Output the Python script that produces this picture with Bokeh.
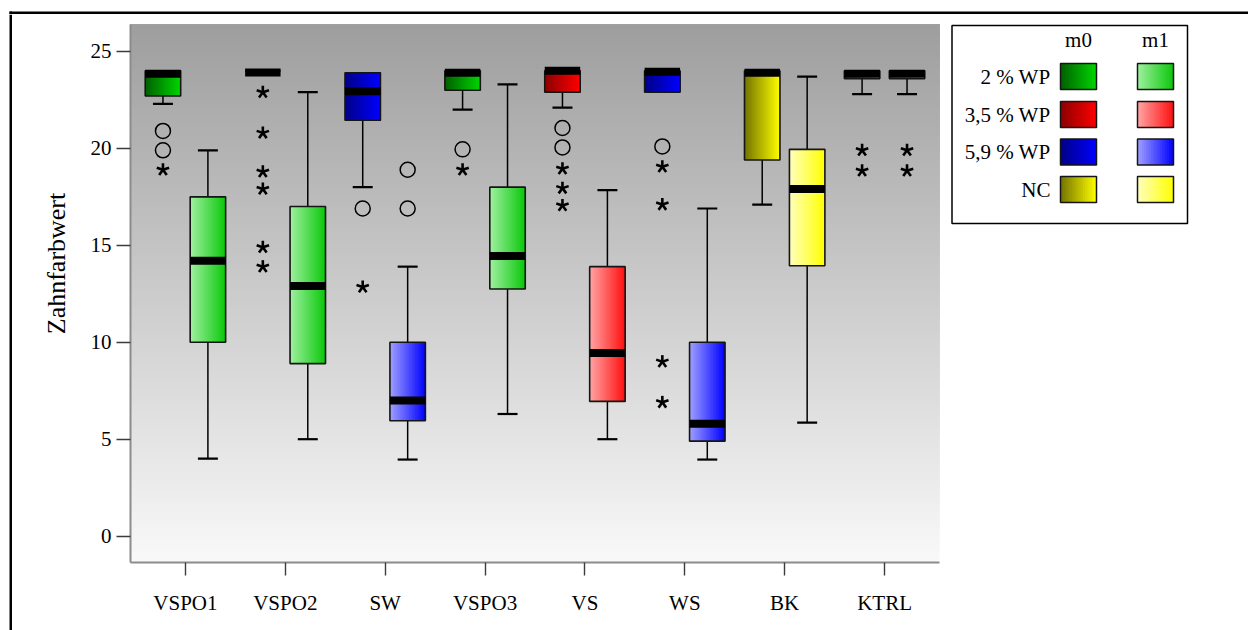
import numpy as np
from bokeh.plotting import figure
from bokeh.layouts import row, column
from bokeh.models import FixedTicker, Range1d
from bokeh.core.properties import value
from bokeh.embed import file_html
from bokeh.resources import INLINE

# ---------------------------------------------------------------- data
categories = ["VSPO1", "VSPO2", "SW", "VSPO3", "VS", "WS", "BK", "KTRL"]
y_ticks = [0, 5, 10, 15, 20, 25]
y_title = "Zahnfarbwert"

# colour group of each category (index into group colours, 4 = control)
cat_group = [0, 0, 2, 0, 1, 2, 3, 4]
group_names = ["2 % WP", "3,5 % WP", "5,9 % WP", "NC"]
session_names = ["m0", "m1"]

# box plot summaries, session m0
m0_low = [22.3, 24.0, 18.0, 22.0, 22.1, 22.9, 17.1, 22.8]
m0_q1 = [22.7, 24.0, 21.45, 23.0, 22.9, 22.9, 19.4, 23.6]
m0_med = [23.85, 23.92, 22.95, 23.9, 24.0, 23.95, 23.9, 23.85]
m0_q3 = [24.0, 24.0, 23.9, 24.0, 24.0, 24.0, 24.0, 24.0]
m0_high = [24.0, 24.0, 23.9, 24.0, 24.0, 24.0, 24.0, 24.0]
m0_circles = [[20.9, 19.9], [], [16.9], [19.95], [21.05, 20.05], [20.1], [], []]
m0_stars = [[18.9], [22.9, 20.8, 18.8, 17.9, 14.9, 13.9], [12.85], [18.9],
            [18.95, 17.95, 17.05], [19.05, 17.1, 9.0, 6.9], [], [19.9, 18.85]]

# box plot summaries, session m1
m1_low = [4.0, 5.0, 3.95, 6.3, 5.0, 3.95, 5.85, 22.8]
m1_q1 = [10.0, 8.9, 5.95, 12.75, 6.95, 4.9, 13.95, 23.6]
m1_med = [14.2, 12.9, 7.0, 14.45, 9.45, 5.8, 17.9, 23.85]
m1_q3 = [17.5, 17.0, 10.0, 18.0, 13.9, 10.0, 19.95, 24.0]
m1_high = [19.9, 22.9, 13.9, 23.3, 17.85, 16.9, 23.7, 24.0]
m1_circles = [[], [], [18.9, 16.9], [], [], [], [], []]
m1_stars = [[], [], [], [], [], [], [], [19.9, 18.85]]

# horizontal gradient (left colour, right colour) per group and session
m0_colours = [((0, 95, 0), (0, 215, 0)), ((140, 0, 0), (255, 0, 0)),
              ((0, 0, 135), (0, 0, 255)), ((115, 115, 0), (255, 255, 0)),
              ((110, 110, 110), (255, 255, 255))]
m1_colours = [((160, 240, 160), (10, 200, 10)), ((255, 165, 165), (255, 15, 15)),
              ((160, 160, 255), (0, 0, 255)), ((255, 255, 190), (255, 255, 0)),
              ((180, 180, 180), (255, 255, 255))]

# ---------------------------------------------------------------- style
W, H = 1248, 630
FONT = "Liberation Serif"
OFFSETS = [-0.225, 0.225]
BOX_W = 0.355
CAP_W = 0.2
N_STRIPS = 24
X_MIN, X_MAX = -0.55, 7.55
Y_MIN, Y_MAX = -1.36, 26.39

LEFT_W = 70          # strip holding the frame line and the y title
LEGEND_W = 303       # legend column
MAIN_W = W - LEFT_W - LEGEND_W
TOP_H = 14           # strip holding the top frame line
BODY_H = H - TOP_H
FRAME_LW = 2.5


def lerp(c0, c1, t):
    return "#%02x%02x%02x" % tuple(int(round(a + (b - a) * t)) for a, b in zip(c0, c1))


def no_frame_align(f):
    # keep each panel's own frame instead of lining it up with neighbours
    if hasattr(f, "frame_align"):
        f.frame_align = False
    return f


def pixel_fig(width, height, x0, y0):
    """Blank figure whose coordinates are page pixels (y grows downward)."""
    f = figure(width=width, height=height, output_backend="svg",
               toolbar_location=None, x_axis_type=None, y_axis_type=None,
               x_range=Range1d(x0, x0 + width), y_range=Range1d(y0 + height, y0),
               min_border=0)
    f.outline_line_color = None
    f.grid.visible = False
    f.background_fill_color = "white"
    f.border_fill_color = "white"
    return no_frame_align(f)


# ---------------------------------------------------------------- main plot
p = figure(width=MAIN_W, height=BODY_H, output_backend="svg",
           toolbar_location=None,
           x_range=Range1d(X_MIN, X_MAX), y_range=Range1d(Y_MIN, Y_MAX),
           min_border_left=130 - LEFT_W, min_border_right=LEFT_W + MAIN_W - 939,
           min_border_top=24 - TOP_H, min_border_bottom=H - 562)
no_frame_align(p)
p.outline_line_color = None
p.grid.visible = False
p.background_fill_color = None
p.border_fill_color = "white"

# plot-area background: vertical grey gradient (each strip overdraws upward)
n_bg = 160
bg_bottom = [Y_MIN + k * (Y_MAX - Y_MIN) / n_bg for k in range(n_bg)]
bg_col = [lerp((249, 249, 249), (158, 158, 158), (k + 0.5) / n_bg) for k in range(n_bg)]
p.quad(left=X_MIN, right=X_MAX, bottom=bg_bottom, top=Y_MAX,
       fill_color=bg_col, line_color=None)

sessions = [
    (m0_low, m0_q1, m0_med, m0_q3, m0_high, m0_circles, m0_stars, m0_colours),
    (m1_low, m1_q1, m1_med, m1_q3, m1_high, m1_circles, m1_stars, m1_colours),
]

wx0, wy0, wx1, wy1 = [], [], [], []
cx0, cx1, cy = [], [], []
sl, sr, sb, st, sc = [], [], [], [], []
bl, br, bb, bt = [], [], [], []
mx0, mx1, my = [], [], []
circ_x, circ_y, star_x, star_y = [], [], [], []

for s, (low, q1, med, q3, high, circles, stars, cols) in enumerate(sessions):
    for i in range(len(categories)):
        x = i + OFFSETS[s]
        left, right = x - BOX_W / 2, x + BOX_W / 2
        if high[i] > q3[i]:
            wx0.append(x); wx1.append(x); wy0.append(q3[i]); wy1.append(high[i])
            cx0.append(x - CAP_W / 2); cx1.append(x + CAP_W / 2); cy.append(high[i])
        if low[i] < q1[i]:
            wx0.append(x); wx1.append(x); wy0.append(low[i]); wy1.append(q1[i])
            cx0.append(x - CAP_W / 2); cx1.append(x + CAP_W / 2); cy.append(low[i])
        c_left, c_right = cols[cat_group[i]]
        for k in range(N_STRIPS):
            sl.append(left + k * BOX_W / N_STRIPS); sr.append(right)
            sb.append(q1[i]); st.append(q3[i])
            sc.append(lerp(c_left, c_right, (k + 0.5) / N_STRIPS))
        bl.append(left); br.append(right); bb.append(q1[i]); bt.append(q3[i])
        mx0.append(left); mx1.append(right); my.append(med[i])
        for v in circles[i]:
            circ_x.append(x); circ_y.append(v)
        for v in stars[i]:
            star_x.append(x); star_y.append(v)

# whiskers and caps
p.segment(x0=wx0, y0=wy0, x1=wx1, y1=wy1, line_color="black", line_width=1.5)
p.segment(x0=cx0, y0=cy, x1=cx1, y1=cy, line_color="black", line_width=2.2)
# boxes with horizontal colour gradient
p.quad(left=sl, right=sr, bottom=sb, top=st, fill_color=sc, line_color=None)
p.quad(left=bl, right=br, bottom=bb, top=bt, fill_color=None,
       line_color="#151515", line_width=1.6)
# medians
p.segment(x0=mx0, y0=my, x1=mx1, y1=my, line_color="black", line_width=8,
          line_cap="butt")
# outliers: open circles and five-armed asterisks
p.scatter(circ_x, circ_y, marker="circle", size=15, fill_color=None,
          line_color="black", line_width=1.5)
arm_angles = np.deg2rad([90, 18, -54, -126, 162])
ax, ay, aa = [], [], []
for x, y in zip(star_x, star_y):
    for a in arm_angles:
        ax.append(x); ay.append(y); aa.append(a)
p.ray(x=ax, y=ay, angle=aa, length=6.5, length_units="screen",
      line_color="black", line_width=2.6)

# axes
for axis in (p.xaxis, p.yaxis):
    axis.axis_line_color = "#8c8c8c"
    axis.axis_line_width = 2
    axis.major_tick_line_color = "#3c3c3c"
    axis.major_tick_line_width = 1.4
    axis.major_tick_in = 0
    axis.minor_tick_line_color = None
    axis.major_label_text_font = FONT
    axis.major_label_text_font_size = "21px"
    axis.major_label_text_color = "black"

p.yaxis.ticker = FixedTicker(ticks=y_ticks)
p.yaxis.major_tick_out = 14
p.yaxis.major_label_standoff = 5

p.xaxis.ticker = FixedTicker(ticks=list(range(len(categories))))
p.xaxis.major_label_overrides = {i: c for i, c in enumerate(categories)}
p.xaxis.major_tick_out = 13
p.xaxis.major_label_standoff = 15

# ---------------------------------------------------------------- top strip
top_fig = pixel_fig(W, TOP_H, 0, 0)
top_fig.quad(left=[9, 9], right=[W, 9 + FRAME_LW], top=[11, 11],
             bottom=[11 + FRAME_LW, TOP_H], fill_color="black", line_color=None)

# ---------------------------------------------------------------- left strip
left_fig = pixel_fig(LEFT_W, BODY_H, 0, TOP_H)
left_fig.quad(left=[9], right=[9 + FRAME_LW], top=[TOP_H], bottom=[H],
              fill_color="black", line_color=None)
left_fig.text(x=[56], y=[263], text=[y_title], angle=np.pi / 2,
              text_align="center", text_baseline="middle",
              text_font=value(FONT), text_font_size="26px", text_color="black")

# ---------------------------------------------------------------- legend
leg = pixel_fig(LEGEND_W, BODY_H, LEFT_W + MAIN_W, TOP_H)
leg.quad(left=[951.5], right=[1187], top=[25], bottom=[223],
         fill_color="white", line_color="black", line_width=1.5)

sw_left = [1060, 1137]
sw_w = 36
row_top = [63, 101, 138.5, 176]
row_h = 26
leg.text(x=[sx + sw_w / 2 for sx in sw_left], y=[39, 39], text=session_names,
         text_align="center", text_baseline="middle", text_font=value(FONT),
         text_font_size="21px", text_color="black")
leg.text(x=[1050] * len(group_names), y=[t + row_h / 2 for t in row_top],
         text=group_names, text_align="right", text_baseline="middle",
         text_font=value(FONT), text_font_size="21px", text_color="black")

n_sw = 16
gl, gr, gt, gb, gc = [], [], [], [], []
ol, orr, ot, ob = [], [], [], []
for g in range(len(group_names)):
    top = row_top[g]
    for j, cols in enumerate((m0_colours, m1_colours)):
        c_left, c_right = cols[g]
        for k in range(n_sw):
            gl.append(sw_left[j] + k * sw_w / n_sw); gr.append(sw_left[j] + sw_w)
            gt.append(top); gb.append(top + row_h)
            gc.append(lerp(c_left, c_right, (k + 0.5) / n_sw))
        ol.append(sw_left[j]); orr.append(sw_left[j] + sw_w)
        ot.append(top); ob.append(top + row_h)
leg.quad(left=gl, right=gr, top=gt, bottom=gb, fill_color=gc, line_color=None)
leg.quad(left=ol, right=orr, top=ot, bottom=ob, fill_color=None,
         line_color="#151515", line_width=1.5)

# each panel sits in its own column so the row keeps their frames independent
body = row(column(left_fig, spacing=0), column(p, spacing=0),
           column(leg, spacing=0), spacing=0)
layout = column(column(top_fig, spacing=0), body, spacing=0)

open("out.html", "w").write(file_html(layout, INLINE))
